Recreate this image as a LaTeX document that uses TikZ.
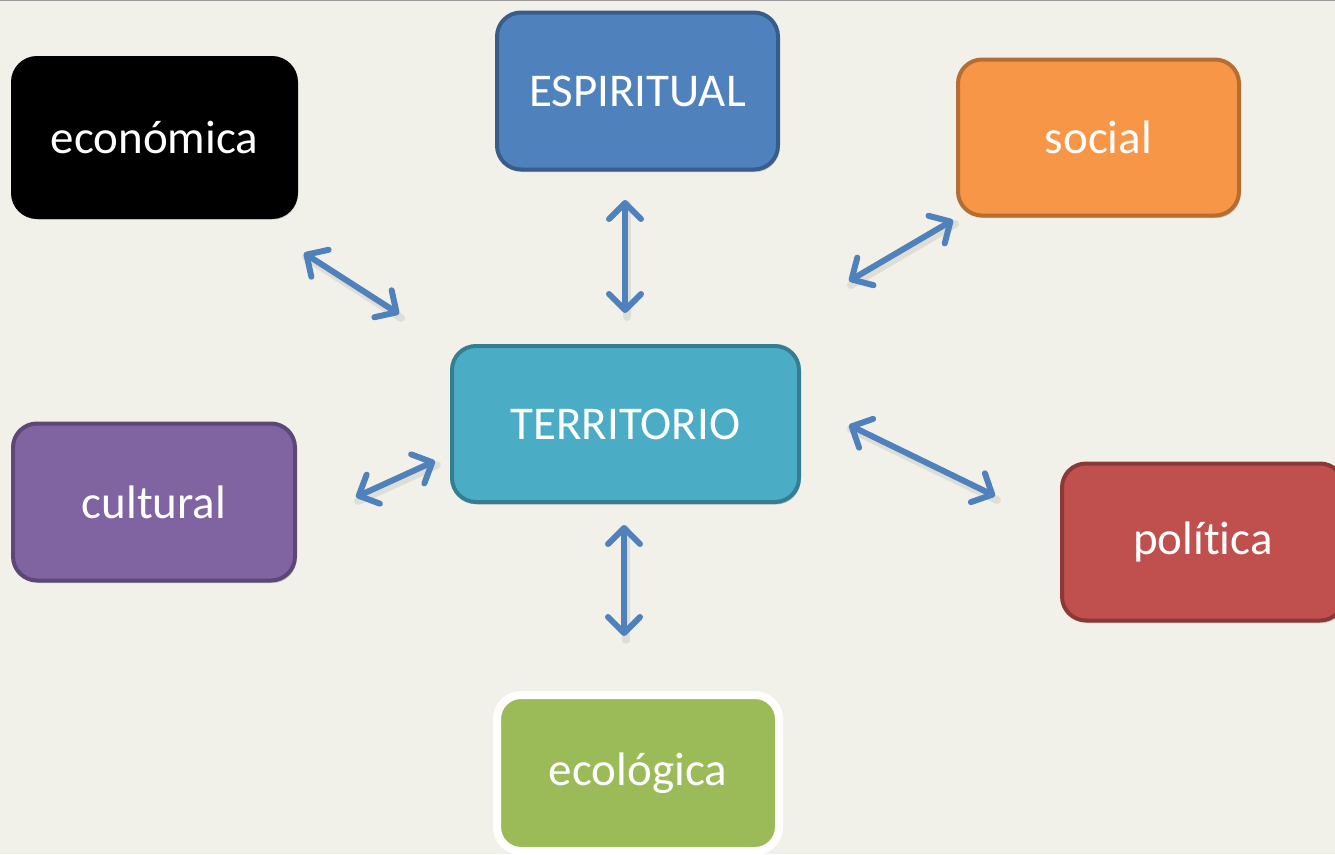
\documentclass[tikz,border=0pt]{standalone}
\usepackage{fontspec}
\setmainfont[Ligatures={NoCommon,NoRare,NoContextual}]{Carlito}
\usetikzlibrary{arrows.meta,shadows}
\definecolor{bg}{HTML}{F2F1E9}
\definecolor{arr}{HTML}{4F81BD}
\definecolor{espF}{HTML}{4F81BD}\definecolor{espD}{HTML}{385D8A}
\definecolor{socF}{HTML}{F79646}\definecolor{socD}{HTML}{B66D31}
\definecolor{terF}{HTML}{4BACC6}\definecolor{terD}{HTML}{357D91}
\definecolor{culF}{HTML}{8064A2}\definecolor{culD}{HTML}{5C4776}
\definecolor{polF}{HTML}{C0504D}\definecolor{polD}{HTML}{8C3836}
\definecolor{ecoF}{HTML}{9BBB59}
\tikzset{
  box/.style={rectangle, rounded corners=24pt, line width=4pt, text=white,
    font=\fontsize{47}{56}\selectfont, inner sep=0pt, align=center,
    drop shadow={shadow xshift=1.5pt, shadow yshift=-2.5pt, opacity=0.18, fill=black}},
  link/.style={draw=arr, line width=6pt, line cap=round,
    {Straight Barb[length=16pt,width=32pt,round,line width=6pt]}-{Straight Barb[length=16pt,width=32pt,round,line width=6pt]}},
  linkshadow/.style={draw=black, opacity=0.08, line width=8pt, line cap=round}
}
\begin{document}
\begin{tikzpicture}[x=1pt,y=-1pt]
\fill[bg] (0,0) rectangle (1335,854);
\useasboundingbox (0,0) rectangle (1335,854);
\draw[line width=2pt, draw=black!40] (0,0) -- (1335,0);

\node[box, fill=black, draw=black, minimum width=283pt, minimum height=159pt] (eco) at (154.5,137.5) {económica};
\node[box, fill=espF, draw=espD, minimum width=281pt, minimum height=157pt] (esp) at (637.5,91) {ESPIRITUAL};
\node[box, fill=socF, draw=socD, minimum width=281pt, minimum height=156pt] (soc) at (1098.5,137.5) {social};
\node[box, fill=terF, draw=terD, minimum width=347pt, minimum height=156pt] (ter) at (625.5,424) {TERRITORIO};
\node[box, fill=culF, draw=culD, minimum width=282pt, minimum height=157pt] (cul) at (154,502) {cultural};
\node[box, fill=polF, draw=polD, minimum width=282pt, minimum height=157pt] (pol) at (1203,542) {polít\kern0pt ica};
\node[box, fill=ecoF, draw=white, line width=8pt, minimum width=282pt, minimum height=156pt] (ecl) at (638,773) {ecológica};

\coordinate (a1) at (304,253); \coordinate (b1) at (399,314);
\coordinate (a2) at (625,200); \coordinate (b2) at (625,313);
\coordinate (a3) at (953,220); \coordinate (b3) at (849,281);
\coordinate (a4) at (356,497); \coordinate (b4) at (435,461);
\coordinate (a5) at (849,425); \coordinate (b5) at (995,496);
\coordinate (a6) at (624,525); \coordinate (b6) at (624,636);

\foreach \s/\e in {a1/b1,a2/b2,a3/b3,a4/b4,a5/b5,a6/b6}{
  \draw[linkshadow] ([shift={(2,4)}]\s) -- ([shift={(2,4)}]\e);
  \draw[link] (\s) -- (\e);
}
\end{tikzpicture}
\end{document}
